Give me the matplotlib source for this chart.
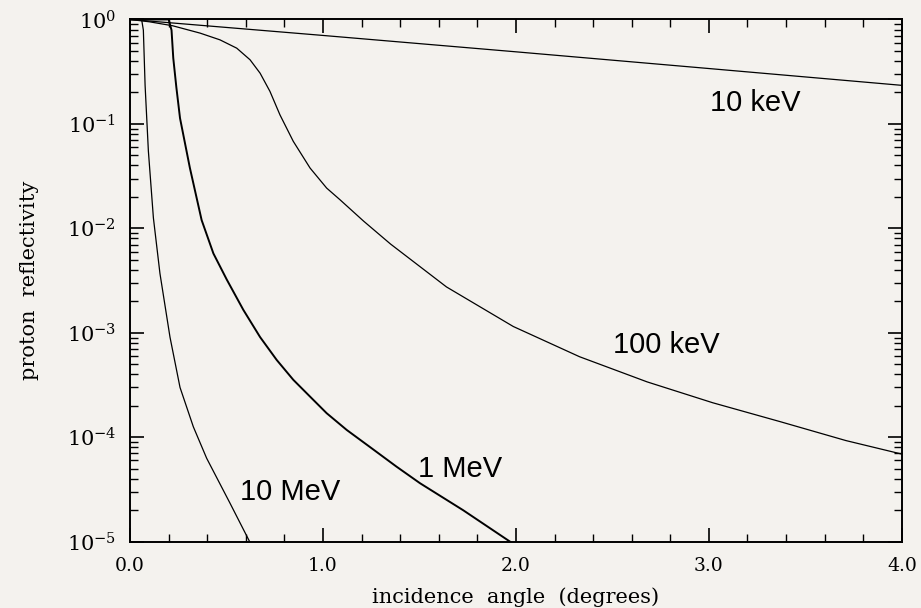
import numpy as np
import matplotlib
matplotlib.use("Agg")
import matplotlib.pyplot as plt
from matplotlib.ticker import LogLocator, MultipleLocator, NullFormatter, FormatStrFormatter

plt.rcParams['font.family'] = 'DejaVu Serif'
plt.rcParams['mathtext.fontset'] = 'dejavuserif'

angle_10kev = [0.0, 1.0, 2.0, 3.0, 4.0]
refl_10kev = [1.0, 0.703, 0.490, 0.339, 0.234]

angle_100kev = [0.0, 0.10, 0.22, 0.363, 0.466, 0.553, 0.622, 0.674, 0.725, 0.777, 0.846,
                0.933, 1.019, 1.088, 1.21, 1.35, 1.64, 1.986, 2.33, 2.68, 3.02, 3.37,
                3.71, 4.0]
refl_100kev = [1.0, 0.95, 0.871, 0.740, 0.638, 0.531, 0.411, 0.306, 0.205, 0.122, 0.0681,
               0.0378, 0.0243, 0.0188, 0.01175, 0.00708, 0.00275, 0.00115, 5.9e-4,
               3.39e-4, 2.14e-4, 1.41e-4, 9.3e-5, 6.9e-5]

angle_1mev = [0.0, 0.20, 0.215, 0.224, 0.24, 0.259, 0.31, 0.371, 0.432, 0.501, 0.587,
              0.674, 0.760, 0.846, 0.933, 1.019, 1.123, 1.25, 1.38, 1.503, 1.727, 1.97]
refl_1mev = [1.0, 1.0, 0.79, 0.427, 0.224, 0.1135, 0.038, 0.0120, 0.00575, 0.00324,
             0.00166, 9.1e-4, 5.5e-4, 3.55e-4, 2.45e-4, 1.70e-4, 1.175e-4, 7.9e-5,
             5.25e-5, 3.63e-5, 2.0e-5, 1.0e-5]

angle_10mev = [0.0, 0.06, 0.069, 0.078, 0.095, 0.121, 0.155, 0.207, 0.259, 0.328, 0.397,
               0.518, 0.62]
refl_10mev = [1.0, 1.0, 0.79, 0.234, 0.055, 0.0126, 0.0037, 9.1e-4, 3.0e-4, 1.26e-4,
              6.3e-5, 2.34e-5, 1.0e-5]

labels = ["10 keV", "100 keV", "1 MeV", "10 MeV"]
label_x = [3.24, 2.78, 1.71, 0.83]
label_y = [0.16, 7.6e-4, 5.0e-5, 3.0e-5]

bg = '#f4f2ee'
fig = plt.figure(figsize=(9.21, 6.08), dpi=100, facecolor=bg)
ax = fig.add_axes([0.1412, 0.109, 0.838, 0.859])
ax.set_facecolor(bg)

ax.plot(angle_10kev, refl_10kev, color='black', lw=0.9)
ax.plot(angle_100kev, refl_100kev, color='black', lw=0.9)
ax.plot(angle_1mev, refl_1mev, color='black', lw=1.4)
ax.plot(angle_10mev, refl_10mev, color='black', lw=0.9)

for t, x, y in zip(labels, label_x, label_y):
    ax.text(x, y, t, fontsize=21, family='Liberation Sans', ha='center', va='center')

ax.set_yscale('log')
ax.set_xlim(0, 4)
ax.set_ylim(1e-5, 1)

ax.xaxis.set_major_locator(MultipleLocator(1.0))
ax.xaxis.set_minor_locator(MultipleLocator(0.2))
ax.xaxis.set_major_formatter(FormatStrFormatter('%.1f'))
ax.yaxis.set_major_locator(LogLocator(base=10, numticks=10))
ax.yaxis.set_minor_locator(LogLocator(base=10, subs=np.arange(2, 10), numticks=20))
ax.yaxis.set_minor_formatter(NullFormatter())

ax.tick_params(which='both', direction='in', top=True, right=True, color='black')
ax.tick_params(which='major', length=10, width=1.2)
ax.tick_params(axis='x', which='major', pad=11, labelsize=13.5)
ax.tick_params(axis='y', which='major', pad=10, labelsize=15)
ax.tick_params(which='minor', length=6, width=1.0)
for s in ax.spines.values():
    s.set_linewidth(1.4)

ax.set_xlabel('incidence  angle  (degrees)', fontsize=15, labelpad=9)
ax.set_ylabel('proton  reflectivity', fontsize=15, labelpad=20)

fig.savefig('out.png', dpi=100, facecolor=bg)
